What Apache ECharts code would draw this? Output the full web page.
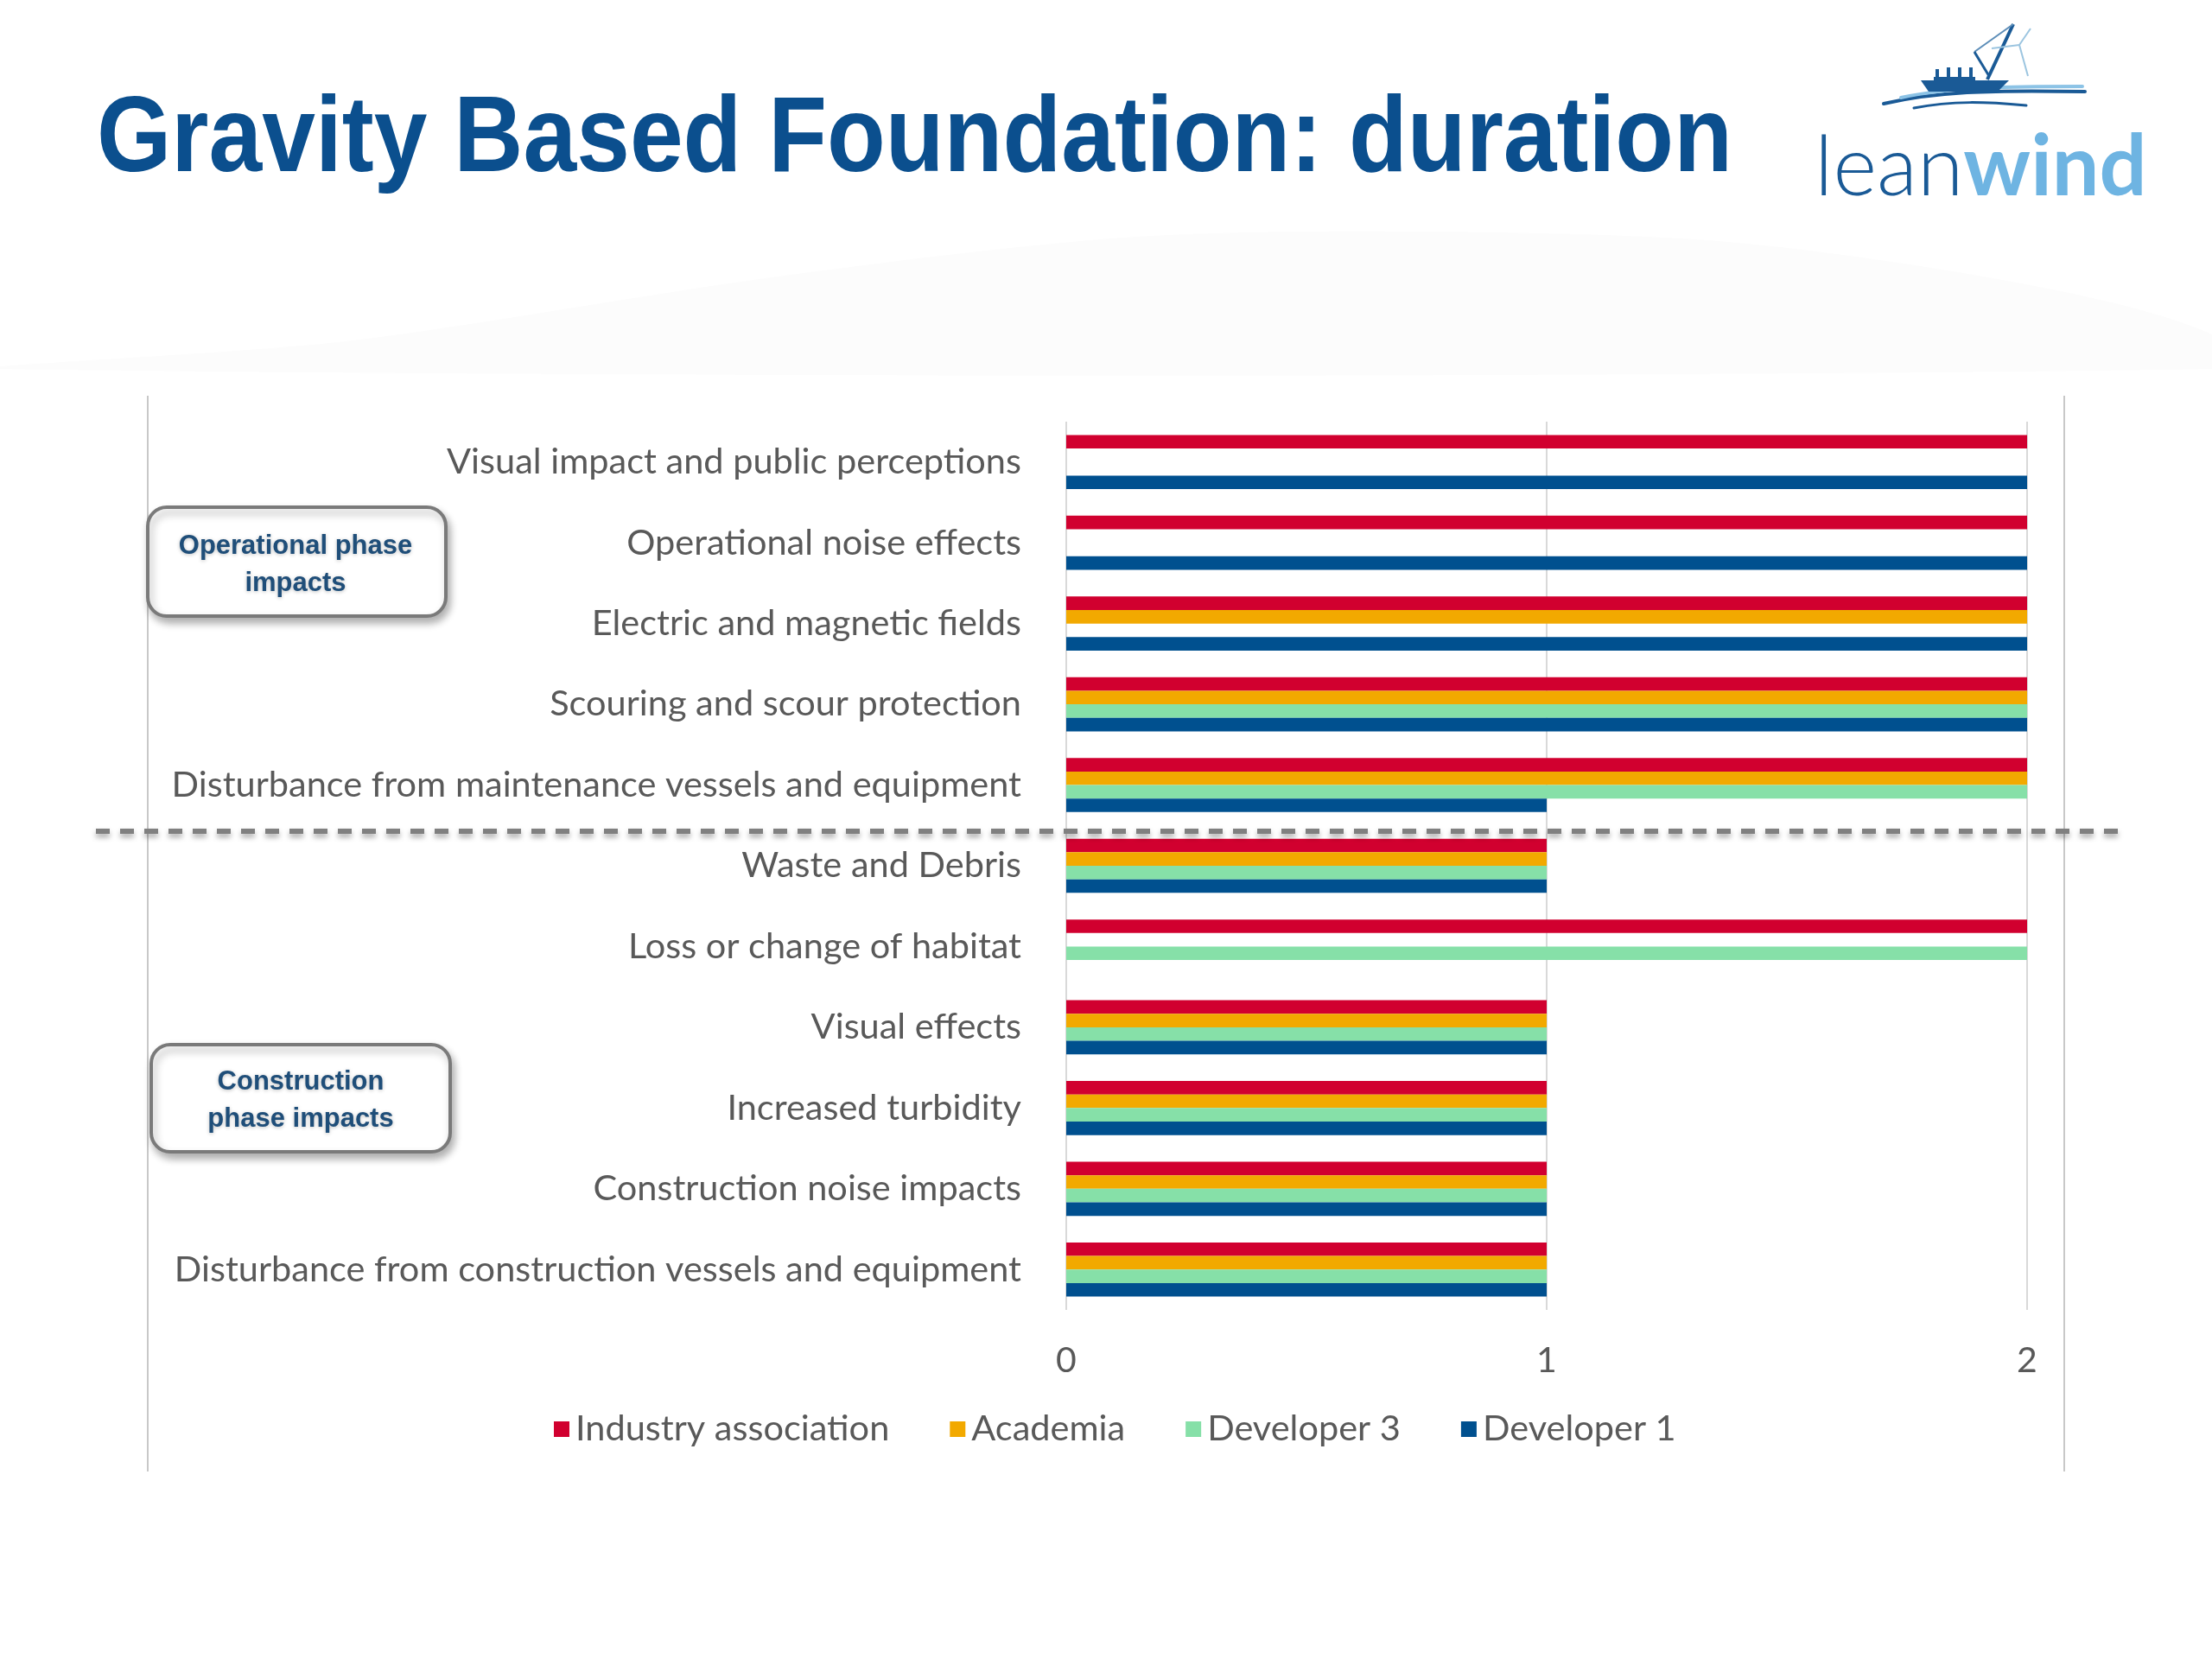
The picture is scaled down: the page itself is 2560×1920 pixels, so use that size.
<!DOCTYPE html>
<html>
<head>
<meta charset="utf-8">
<script src="https://cdn.jsdelivr.net/npm/echarts@6/dist/echarts.min.js"></script>
<style>
html,body{margin:0;padding:0;background:#fff;}
#chart{width:2560px;height:1920px;}
</style>
</head>
<body>
<div id="chart"></div>
<script>
const categories = [
  'Visual impact and public perceptions',
  'Operational noise effects',
  'Electric and magnetic fields',
  'Scouring and scour protection',
  'Disturbance from maintenance vessels and equipment',
  'Waste and Debris',
  'Loss or change of habitat',
  'Visual effects',
  'Increased turbidity',
  'Construction noise impacts',
  'Disturbance from construction vessels and equipment'
];
const seriesNames = ['Industry association', 'Academia', 'Developer 3', 'Developer 1'];
const industryAssociation = [2, 2, 2, 2, 2, 1, 2, 1, 1, 1, 1];
const academia           = [0, 0, 2, 2, 2, 1, 0, 1, 1, 1, 1];
const developer3         = [0, 0, 0, 2, 2, 1, 2, 1, 1, 1, 1];
const developer1         = [2, 2, 2, 2, 1, 1, 0, 1, 1, 1, 1];
const xTicks = [0, 1, 2];
const titleText = 'Gravity Based Foundation: duration';
const boxLabels = [['Operational phase', 'impacts'], ['Construction', 'phase impacts']];

const colors = ['#D1002F', '#F2A900', '#86E0A8', '#00508F'];
const values = [industryAssociation, academia, developer3, developer1];

const chart = echarts.init(document.getElementById('chart'), null, {renderer: 'canvas'});

const labelFont = 'Lato, "Open Sans", sans-serif';
const boxText = (cx, y, txt) => ({
  type: 'text', x: cx, y: y, z: 20,
  style: {
    text: txt, fill: '#1F4E79', font: 'bold 31px "Liberation Sans", Arial, sans-serif',
    textAlign: 'center', textVerticalAlign: 'middle',
    textShadowBlur: 4, textShadowColor: 'rgba(0,0,0,0.25)', textShadowOffsetY: 1
  }
});
const wave = (x1, y1, c1x, c1y, c2x, c2y, x2, y2, color, w) => ({
  type: 'bezierCurve', z: 10,
  shape: {x1: x1, y1: y1, cpx1: c1x, cpy1: c1y, cpx2: c2x, cpy2: c2y, x2: x2, y2: y2},
  style: {stroke: color, lineWidth: w, fill: null, lineCap: 'round'}
});

const option = {
  backgroundColor: '#ffffff',
  animation: false,
  color: colors,
  grid: {left: 1234, right: 214, top: 488, bottom: 404, containLabel: false},
  xAxis: {
    type: 'value', min: 0, max: 2, interval: 1,
    axisLine: {show: false}, axisTick: {show: false},
    splitLine: {show: true, lineStyle: {color: '#D9D9D9', width: 2}},
    axisLabel: {
      color: '#595959', fontSize: 41, fontFamily: labelFont, margin: 38,
      formatter: v => String(xTicks[xTicks.indexOf(v)])
    }
  },
  yAxis: {
    type: 'category', data: categories, inverse: true,
    axisLine: {show: false}, axisTick: {show: false},
    axisLabel: {color: '#595959', fontSize: 41.5, fontFamily: labelFont, margin: 52}
  },
  legend: {
    data: seriesNames, left: 636, top: 1628,
    itemWidth: 18, itemHeight: 18, itemGap: 70, icon: 'rect',
    textStyle: {color: '#595959', fontSize: 41.5, fontFamily: labelFont, padding: [0, 0, 0, 2]}
  },
  series: seriesNames.map((n, i) => ({
    name: n, type: 'bar', data: values[i],
    barGap: '0%', barCategoryGap: '33%',
    itemStyle: {color: colors[i]}
  })),
  graphic: [
    // faint background swoosh
    {
      type: 'polygon', z: -10, silent: true,
      shape: {points: [[0, 427], [400, 395], [900, 320], [1300, 275], [1633, 268], [2000, 280], [2350, 330], [2560, 387], [2560, 427]], smooth: 0.3},
      style: {fill: '#FCFCFC'}
    },
    // title
    {
      type: 'text', x: 112, y: 164, scaleX: 0.895, z: 10,
      style: {
        text: titleText, fill: '#0B4F8E',
        font: 'bold 124px "Liberation Sans", Arial, sans-serif',
        textAlign: 'left', textVerticalAlign: 'middle'
      }
    },
    // logo text
    {
      type: 'text', x: 2100, y: 243, z: 10,
      style: {
        text: '{a|lean}{b|wind}',
        textVerticalAlign: 'bottom',
        rich: {
          a: {fill: '#1A5A96', fontSize: 97, fontWeight: 300, fontFamily: 'Lato'},
          b: {fill: '#6EB4E2', fontSize: 97, fontWeight: 'bold', fontFamily: 'Lato'}
        }
      }
    },
    // logo: waves
    wave(2180, 120, 2240, 106, 2300, 104, 2413, 106, '#1A5A96', 4),
    wave(2200, 113, 2260, 100, 2330, 100, 2410, 100, '#8CC3E6', 4),
    wave(2215, 125, 2260, 116, 2300, 118, 2345, 122, '#1A5A96', 3),
    // logo: ship hull
    {type: 'polygon', z: 11, shape: {points: [[2223, 93], [2325, 93], [2312, 106], [2232, 106]]}, style: {fill: '#1A5A96'}},
    {type: 'rect', z: 11, shape: {x: 2240, y: 80, width: 4, height: 13}, style: {fill: '#1A5A96'}},
    {type: 'rect', z: 11, shape: {x: 2253, y: 78, width: 4, height: 15}, style: {fill: '#1A5A96'}},
    {type: 'rect', z: 11, shape: {x: 2266, y: 78, width: 4, height: 15}, style: {fill: '#1A5A96'}},
    {type: 'rect', z: 11, shape: {x: 2279, y: 78, width: 4, height: 15}, style: {fill: '#1A5A96'}},
    {type: 'rect', z: 11, shape: {x: 2238, y: 89, width: 48, height: 5}, style: {fill: '#1A5A96'}},
    // crane
    {type: 'line', z: 11, shape: {x1: 2300, y1: 92, x2: 2330, y2: 28}, style: {stroke: '#1A5A96', lineWidth: 4}},
    {type: 'line', z: 11, shape: {x1: 2285, y1: 60, x2: 2330, y2: 28}, style: {stroke: '#5C8DB8', lineWidth: 2}},
    {type: 'line', z: 11, shape: {x1: 2285, y1: 60, x2: 2302, y2: 88}, style: {stroke: '#1A5A96', lineWidth: 3}},
    // turbine
    {type: 'line', z: 11, shape: {x1: 2337, y1: 52, x2: 2350, y2: 33}, style: {stroke: '#9CC5E0', lineWidth: 2}},
    {type: 'line', z: 11, shape: {x1: 2337, y1: 52, x2: 2347, y2: 88}, style: {stroke: '#9CC5E0', lineWidth: 2}},
    {type: 'line', z: 11, shape: {x1: 2337, y1: 52, x2: 2305, y2: 56}, style: {stroke: '#9CC5E0', lineWidth: 2}},
    // chart side borders
    {type: 'line', z: 1, shape: {x1: 171, y1: 458, x2: 171, y2: 1703}, style: {stroke: '#C8C8C8', lineWidth: 2}},
    {type: 'line', z: 1, shape: {x1: 2389, y1: 458, x2: 2389, y2: 1703}, style: {stroke: '#C8C8C8', lineWidth: 2}},
    // phase separator dashed line
    {
      type: 'line', z: 15, shape: {x1: 111, y1: 962, x2: 2452, y2: 962},
      style: {stroke: '#808080', lineWidth: 6, lineDash: [16, 12],
        shadowBlur: 6, shadowColor: 'rgba(0,0,0,0.35)', shadowOffsetY: 4}
    },
    // callout boxes
    {
      type: 'rect', z: 18, shape: {x: 171, y: 587, width: 345, height: 126, r: 22},
      style: {fill: '#FFFFFF', stroke: '#7A7A7A', lineWidth: 4,
        shadowBlur: 10, shadowColor: 'rgba(0,0,0,0.3)', shadowOffsetX: 3, shadowOffsetY: 6}
    },
    boxText(342, 632, boxLabels[0][0]),
    boxText(342, 675, boxLabels[0][1]),
    {
      type: 'rect', z: 18, shape: {x: 175, y: 1209, width: 346, height: 124, r: 22},
      style: {fill: '#FFFFFF', stroke: '#7A7A7A', lineWidth: 4,
        shadowBlur: 10, shadowColor: 'rgba(0,0,0,0.3)', shadowOffsetX: 3, shadowOffsetY: 6}
    },
    boxText(348, 1252, boxLabels[1][0]),
    boxText(348, 1295, boxLabels[1][1])
  ]
};
chart.setOption(option);
</script>
</body>
</html>
